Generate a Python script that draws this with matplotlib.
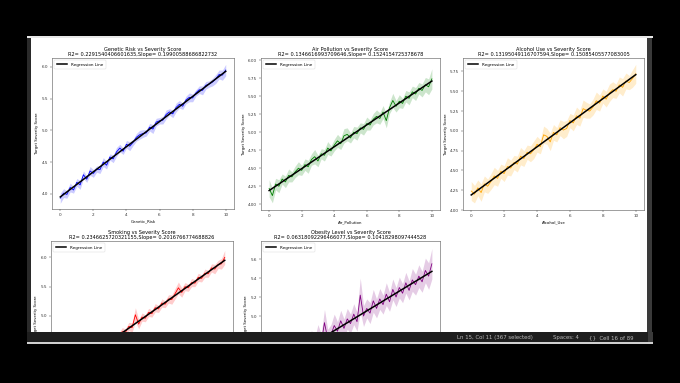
import matplotlib
matplotlib.use('Agg')
import matplotlib.pyplot as plt
from matplotlib.patches import Rectangle
import numpy as np

W, H = 680, 383

# ---- data ----
x_vals = np.linspace(0, 10, 51)

features = ['Genetic_Risk', 'Air_Pollution', 'Alcohol_Use', 'Smoking', 'Obesity_Level']
names = ['Genetic Risk', 'Air Pollution', 'Alcohol Use', 'Smoking', 'Obesity Level']
colors = ['blue', 'green', 'orange', 'red', 'purple']
r2_text = ['0.2291540406601635', '0.1346616993709646', '0.13195049116707594',
           '0.2346625720321155', '0.06318092296466077']
slope_text = ['0.19900588686822732', '0.1524154725378678', '0.15085405577083005',
              '0.2016766774688826', '0.10418298097444528']

# regression line (value at x=0, value at x=10) as drawn
reg_start = [3.95, 4.19, 4.19, 3.95, 4.43]
reg_end = [5.93, 5.71, 5.71, 5.95, 5.47]

genetic_mean = [3.93, 4.01, 3.99, 4.10, 4.06, 4.18, 4.14, 4.30, 4.23, 4.36, 4.32,
                4.39, 4.38, 4.50, 4.45, 4.58, 4.55, 4.66, 4.72, 4.67, 4.78,
                4.75, 4.81, 4.89, 4.93, 4.95, 4.96, 5.05, 5.02, 5.13, 5.15,
                5.16, 5.25, 5.29, 5.26, 5.36, 5.41, 5.38, 5.48, 5.52, 5.51,
                5.59, 5.64, 5.63, 5.71, 5.73, 5.76, 5.81, 5.88, 5.87, 5.95]
genetic_ci = [0.08, 0.07, 0.06, 0.07, 0.05, 0.06, 0.07, 0.06, 0.05, 0.07, 0.06,
              0.05, 0.06, 0.07, 0.06, 0.05, 0.06, 0.07, 0.06, 0.05, 0.06,
              0.07, 0.05, 0.06, 0.07, 0.06, 0.05, 0.06, 0.07, 0.06, 0.05,
              0.06, 0.07, 0.05, 0.06, 0.07, 0.06, 0.05, 0.06, 0.07, 0.06,
              0.05, 0.06, 0.07, 0.06, 0.05, 0.06, 0.07, 0.07, 0.08, 0.09]

air_mean = [4.22, 4.12, 4.28, 4.25, 4.35, 4.31, 4.40, 4.38, 4.45, 4.50, 4.47,
            4.55, 4.52, 4.62, 4.66, 4.60, 4.70, 4.68, 4.78, 4.74, 4.82,
            4.88, 4.84, 4.95, 4.97, 4.92, 5.00, 4.98, 5.06, 5.04, 5.12,
            5.10, 5.18, 5.22, 5.19, 5.28, 5.16, 5.34, 5.44, 5.36, 5.43,
            5.40, 5.50, 5.47, 5.56, 5.53, 5.61, 5.58, 5.66, 5.63, 5.74]
air_ci = [0.12, 0.10, 0.08, 0.09, 0.07, 0.08, 0.09, 0.07, 0.08, 0.09, 0.07,
          0.08, 0.09, 0.08, 0.10, 0.08, 0.07, 0.08, 0.09, 0.07, 0.08,
          0.09, 0.08, 0.10, 0.09, 0.07, 0.08, 0.09, 0.07, 0.08, 0.09,
          0.07, 0.08, 0.09, 0.08, 0.09, 0.10, 0.08, 0.10, 0.08, 0.09,
          0.07, 0.08, 0.09, 0.08, 0.09, 0.08, 0.09, 0.10, 0.11, 0.14]

alcohol_mean = [4.24, 4.20, 4.28, 4.22, 4.33, 4.30, 4.36, 4.43, 4.40, 4.49, 4.46,
                4.55, 4.53, 4.60, 4.58, 4.68, 4.65, 4.73, 4.71, 4.76, 4.83,
                4.80, 4.95, 4.93, 4.86, 4.98, 4.95, 5.04, 5.01, 5.03, 5.13,
                5.10, 5.19, 5.16, 5.28, 5.26, 5.25, 5.30, 5.38, 5.35, 5.44,
                5.40, 5.48, 5.52, 5.50, 5.58, 5.55, 5.63, 5.61, 5.66, 5.72]
alcohol_ci = [0.12, 0.11, 0.10, 0.11, 0.10, 0.09, 0.10, 0.11, 0.10, 0.09, 0.10,
              0.11, 0.10, 0.09, 0.10, 0.11, 0.10, 0.09, 0.10, 0.11, 0.10,
              0.09, 0.11, 0.10, 0.11, 0.10, 0.09, 0.10, 0.11, 0.10, 0.09,
              0.10, 0.11, 0.10, 0.11, 0.10, 0.09, 0.10, 0.11, 0.10, 0.09,
              0.10, 0.11, 0.10, 0.09, 0.10, 0.11, 0.10, 0.09, 0.11, 0.12]

smoking_mean = [3.92, 4.02, 4.00, 4.10, 4.08, 4.17, 4.16, 4.26, 4.24, 4.33, 4.32,
                4.42, 4.40, 4.49, 4.48, 4.58, 4.56, 4.66, 4.64, 4.73, 4.72,
                4.82, 4.80, 5.02, 4.86, 4.98, 4.96, 5.06, 5.04, 5.14, 5.12,
                5.22, 5.20, 5.29, 5.28, 5.38, 5.48, 5.40, 5.50, 5.48, 5.57,
                5.56, 5.66, 5.64, 5.73, 5.72, 5.82, 5.80, 5.88, 5.89, 6.00]
smoking_ci = [0.09, 0.07, 0.06, 0.07, 0.06, 0.07, 0.06, 0.07, 0.06, 0.07, 0.06,
              0.07, 0.06, 0.07, 0.06, 0.07, 0.06, 0.07, 0.06, 0.07, 0.06,
              0.07, 0.08, 0.12, 0.08, 0.07, 0.06, 0.07, 0.06, 0.07, 0.06,
              0.07, 0.06, 0.07, 0.08, 0.09, 0.10, 0.08, 0.07, 0.06, 0.07,
              0.06, 0.07, 0.06, 0.07, 0.06, 0.07, 0.08, 0.07, 0.09, 0.12]

obesity_mean = [4.40, 4.50, 4.44, 4.53, 4.46, 4.58, 4.50, 4.62, 4.55, 4.66, 4.60,
                4.70, 4.63, 4.74, 4.67, 4.80, 4.71, 4.93, 4.76, 4.80, 4.90,
                4.84, 4.95, 4.87, 4.97, 4.92, 5.02, 4.94, 5.22, 5.00, 5.08,
                5.03, 5.16, 5.08, 5.18, 5.12, 5.23, 5.15, 5.28, 5.20, 5.30,
                5.24, 5.35, 5.27, 5.38, 5.33, 5.42, 5.36, 5.48, 5.42, 5.55]
obesity_ci = [0.12, 0.11, 0.10, 0.11, 0.10, 0.11, 0.10, 0.11, 0.10, 0.11, 0.10,
              0.11, 0.10, 0.11, 0.10, 0.11, 0.10, 0.14, 0.10, 0.11, 0.12,
              0.10, 0.11, 0.10, 0.11, 0.10, 0.11, 0.10, 0.18, 0.11, 0.10,
              0.11, 0.12, 0.10, 0.11, 0.10, 0.12, 0.10, 0.11, 0.10, 0.11,
              0.10, 0.11, 0.10, 0.12, 0.11, 0.12, 0.11, 0.13, 0.14, 0.16]

means = [genetic_mean, air_mean, alcohol_mean, smoking_mean, obesity_mean]
cis = [genetic_ci, air_ci, alcohol_ci, smoking_ci, obesity_ci]

y_limits = [(3.76, 6.14), (3.92, 6.03), (4.00, 5.92), (3.70, 6.28), (4.20, 5.79)]
# only the ticks that show above the status bar
y_ticks = [[4.0, 4.5, 5.0, 5.5, 6.0],
           [4.0, 4.25, 4.5, 4.75, 5.0, 5.25, 5.5, 5.75, 6.0],
           [4.0, 4.25, 4.5, 4.75, 5.0, 5.25, 5.5, 5.75],
           [5.0, 5.5, 6.0],
           [5.0, 5.2, 5.4, 5.6]]
y_fmt = ['%.1f', '%.2f', '%.2f', '%.1f', '%.1f']

# axes boxes in screenshot pixels (left, top, right, bottom)
boxes = [(52, 58, 234, 209), (261, 58, 440, 210), (463, 58, 644, 210),
         (51, 241, 233, 392), (261, 241, 440, 392)]


def fbox(l, t, r, b):
    return [l / W, 1 - b / H, (r - l) / W, (b - t) / H]


def frect(fig, l, t, r, b, color, z):
    fig.add_artist(Rectangle((l / W, 1 - b / H), (r - l) / W, (b - t) / H,
                             transform=fig.transFigure, facecolor=color,
                             edgecolor='none', zorder=z))


fig = plt.figure(figsize=(W / 100, H / 100), dpi=100, facecolor='black')

# notebook output area
frect(fig, 27, 36, 653, 38, '#e8e8e8', -2)
frect(fig, 27, 38, 31, 332, '#2a2a2a', -2)
frect(fig, 31, 38, 647, 332, 'white', -2)
frect(fig, 647, 38, 652, 332, '#3a3a3a', -2)

for i in range(5):
    ax = fig.add_axes(fbox(*boxes[i]))
    m = np.array(means[i])
    c = np.array(cis[i])
    ax.fill_between(x_vals, m - c, m + c, color=colors[i], alpha=0.2, lw=0)
    ax.plot(x_vals, m, color=colors[i], lw=0.6)
    ax.plot([0, 10], [reg_start[i], reg_end[i]], color='black', lw=1.1,
            label='Regression Line')
    ax.set_xlim(-0.5, 10.5)
    ax.set_ylim(*y_limits[i])
    ax.set_yticks(y_ticks[i])
    ax.set_yticklabels([y_fmt[i] % v for v in y_ticks[i]])
    ax.tick_params(labelsize=3, length=1.5, width=0.3, pad=1.5, colors='#333333')
    for s in ax.spines.values():
        s.set_linewidth(0.4)
        s.set_color('#555555')
    if i < 3:
        ax.set_xticks([0, 2, 4, 6, 8, 10])
        ax.set_xlabel(features[i], fontsize=2.8, labelpad=1.5)
    else:
        # lower row: x axis is hidden under the status bar
        ax.set_xticks([])
    ax.set_ylabel('Target Severity Score', fontsize=2.8, labelpad=1.5)
    ax.set_title('{0} vs Severity Score\nR2= {1},Slope= {2}'.format(
        names[i], r2_text[i], slope_text[i]), fontsize=3.6, pad=1.5,
        linespacing=1.0)
    leg = ax.legend(loc='upper left', fontsize=3.0, handlelength=2.6,
                    borderpad=0.6, frameon=True)
    leg.get_frame().set_linewidth(0.3)

# editor status bar that covers the lower row
frect(fig, 27, 332, 653, 342, '#1e1e1e', 10)
frect(fig, 27, 342, 653, 344, '#d0d0d0', 10)
frect(fig, 0, 344, W, H, 'black', 10)
frect(fig, 648, 332, 653, 342, '#3a3a3a', 10)
for tx, label in [(457, 'Ln 15, Col 11 (367 selected)'), (553, 'Spaces: 4'),
                  (589, '{}  Cell 16 of 89')]:
    fig.text(tx / W, 1 - 337.5 / H, label, fontsize=3.9, color='#b8b8b8',
             va='center', ha='left', zorder=11)

fig.savefig('out.png', dpi=100, facecolor='black')
